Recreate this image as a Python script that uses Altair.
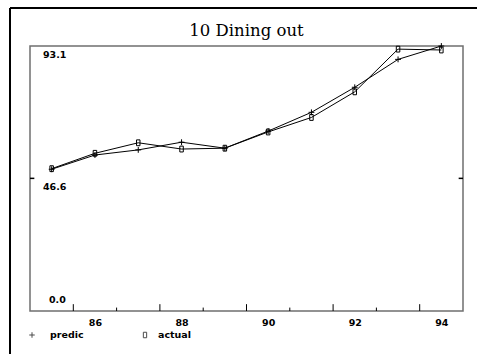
import altair as alt
import pandas as pd

# Dining out index, 1985-1994: predicted vs actual
years = [85, 86, 87, 88, 89, 90, 91, 92, 93, 94]
predic = [49.8, 54.8, 56.6, 59.3, 57.2, 63.2, 69.8, 78.6, 88.4, 93.1]
actual = [50.0, 55.4, 59.1, 56.9, 57.2, 62.9, 68.0, 77.0, 92.0, 91.7]

y_min, y_mid, y_max = 0.0, 46.6, 93.1
x_lo, x_hi = 84.5, 94.5
year_labels = [86, 88, 90, 92, 94]
tick_years = [85.5, 86.5, 87.5, 88.5, 89.5, 90.5, 91.5, 92.5, 93.5]
tick_len = [2.4, 1.2, 2.4, 1.2, 2.4, 1.2, 2.4, 1.2, 2.4]
title_text = "10 Dining out"

LABEL_FONT = "DejaVu Sans"
FS = 9.5

df = pd.DataFrame({
    "year": years * 2,
    "value": predic + actual,
    "series": ["predic"] * len(years) + ["actual"] * len(years),
})

xs = alt.Scale(domain=[x_lo, x_hi], nice=False, zero=False)
ys = alt.Scale(domain=[y_min, y_max], nice=False, zero=False)
x_axis = alt.Axis(
    values=year_labels, format="d", ticks=False, domain=False, grid=False,
    labelFont=LABEL_FONT, labelFontSize=FS, labelFontWeight="bold",
    labelColor="black", labelPadding=6, title=None)


def X(field):
    return alt.X(field, type="quantitative", scale=xs, axis=x_axis)


def Y(field):
    return alt.Y(field, type="quantitative", scale=ys, axis=None)


cross = "M-1,0L1,0M0,-1L0,1"
box = "M-0.6,-1L0.6,-1L0.6,1L-0.6,1Z"
shape_scale = alt.Scale(domain=["predic", "actual"], range=[cross, box])

base = alt.Chart(df)
lines = base.mark_line(color="black", strokeWidth=1).encode(
    x=X("year"), y=Y("value"), detail="series:N")
points = base.mark_point(color="black", filled=False, strokeWidth=1, size=34, opacity=1).encode(
    x=X("year"), y=Y("value"),
    shape=alt.Shape("series:N", scale=shape_scale, legend=None))

# x ticks drawn inward from the bottom edge
ticks_df = pd.DataFrame({"year": tick_years, "len": tick_len, "value": [0.0] * len(tick_years)})
xticks = alt.Chart(ticks_df).mark_rule(color="black", strokeWidth=1).encode(
    x=X("year"), y=Y("value"), y2="len:Q")

# y ticks at the midpoint value on both sides
ytick_df = pd.DataFrame({"value": [y_mid, y_mid], "year": [x_lo, x_hi - 0.1], "b": [x_lo + 0.1, x_hi]})
yticks = alt.Chart(ytick_df).mark_rule(color="black", strokeWidth=1.5).encode(
    y=Y("value"), x=X("year"), x2="b:Q")

# y value labels inside the frame
ylab_df = pd.DataFrame({"value": [y_max, y_mid], "txt": ["93.1", "46.6"], "year": [x_lo, x_lo]})
ylabels = alt.Chart(ylab_df).mark_text(
    align="left", baseline="top", dx=13, dy=4, font=LABEL_FONT, fontSize=FS,
    fontWeight="bold", color="black").encode(
    x=X("year"), y=Y("value"), text="txt:N")
ylab0_df = pd.DataFrame({"value": [y_min], "txt": ["0.0"], "year": [x_lo]})
ylabel0 = alt.Chart(ylab0_df).mark_text(
    align="left", baseline="alphabetic", dx=19, dy=-8, font=LABEL_FONT, fontSize=FS,
    fontWeight="bold", color="black").encode(
    x=X("year"), y=Y("value"), text="txt:N")

# outer page frame (left and top edges)
one = pd.DataFrame({"k": [0]})
frame_left = alt.Chart(one).mark_rule(color="black", strokeWidth=2).encode(
    x=alt.value(-20), y=alt.value(-38), y2=alt.value(320))
frame_top = alt.Chart(one).mark_rule(color="black", strokeWidth=2).encode(
    x=alt.value(-20), x2=alt.value(460), y=alt.value(-38))

# chart heading, centred over the plot
title_df = pd.DataFrame({"t": [title_text]})
title = alt.Chart(title_df).mark_text(
    align="center", baseline="alphabetic", font="DejaVu Serif", fontSize=16.5,
    color="black").encode(x=alt.value(216.5), y=alt.value(-10), text="t:N")

# key below the axis
key_p = pd.DataFrame({"series": ["predic"]})
key_a = pd.DataFrame({"series": ["actual"]})
key_sym_p = alt.Chart(key_p).mark_point(
    color="black", filled=False, strokeWidth=1, size=30, shape=cross).encode(
    x=alt.value(2), y=alt.value(289))
key_sym_a = alt.Chart(key_a).mark_point(
    color="black", filled=False, strokeWidth=1, size=30, shape=box).encode(
    x=alt.value(115), y=alt.value(289))
key_txt_p = alt.Chart(key_p).mark_text(
    align="left", baseline="middle", font=LABEL_FONT, fontSize=FS, fontWeight="bold",
    color="black").encode(x=alt.value(20), y=alt.value(289), text="series:N")
key_txt_a = alt.Chart(key_a).mark_text(
    align="left", baseline="middle", font=LABEL_FONT, fontSize=FS, fontWeight="bold",
    color="black").encode(x=alt.value(128), y=alt.value(289), text="series:N")

chart = alt.layer(
    lines, points, xticks, yticks, ylabels, ylabel0,
    frame_left, frame_top, title, key_sym_p, key_sym_a, key_txt_p, key_txt_a,
).properties(
    width=433, height=265,
    autosize=alt.AutoSizeParams(type="none"),
    padding={"left": 30, "top": 46, "right": 14, "bottom": 43},
).configure_view(stroke="#6f6f6f", strokeWidth=1.5)

chart.save("out.html", embed_options={"renderer": "svg", "actions": False})
